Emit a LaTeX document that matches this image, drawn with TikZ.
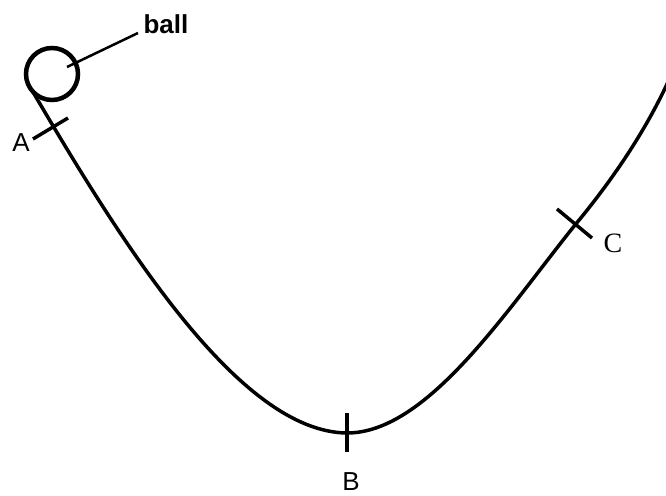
\documentclass[tikz,border=0pt]{standalone}
\usepackage{fontspec}
\setmainfont{Liberation Sans}
\newfontfamily\serifC{Liberation Serif}
\begin{document}
\begin{tikzpicture}[x=1pt,y=-1pt,
  track/.style={line width=3.5pt,line cap=round},
  tickmark/.style={line width=3.5pt},
  lbl/.style={inner sep=0pt,font=\fontsize{26}{30}\selectfont},
  ballshape/.style={circle,draw,line width=4.5pt,minimum size=52pt,inner sep=0pt}]
\useasboundingbox (0,0) rectangle (666,495);
\clip (0,0) rectangle (666,495);
% ball
\node[ballshape] (ballc) at (52,74) {};
\node[lbl,font=\fontsize{26}{30}\selectfont\bfseries] (balllbl) at (166,24) {ball};
\coordinate (leadin) at (67,67);
\coordinate (leadout) at (138,33);
\draw[line width=2.5pt] (leadin) -- (leadout);
% track
\coordinate (start) at (33,92);
\coordinate (bottom) at (347,433);
\coordinate (cpt) at (575,225);
\coordinate (fin) at (672,73);
\draw[track] (start) .. controls (124,247) and (240,432) .. (bottom)
  .. controls (427,433) and (506,311) .. (cpt)
  .. controls (620,171) and (652,119) .. (fin);
% tick A
\coordinate (a1) at (33,139);
\coordinate (a2) at (68,118);
\draw[tickmark] (a1) -- (a2);
\node[lbl] (alab) at (21,143) {A};
% tick B
\coordinate (b1) at (347,413);
\coordinate (b2) at (347,452);
\draw[tickmark] (b1) -- (b2);
\node[lbl] (blab) at (351,482) {B};
% tick C
\coordinate (c1) at (557,209);
\coordinate (c2) at (592,238);
\draw[tickmark] (c1) -- (c2);
\node[lbl,font=\fontsize{28}{32}\selectfont\serifC] (clab) at (613,243) {C};
\end{tikzpicture}
\end{document}
